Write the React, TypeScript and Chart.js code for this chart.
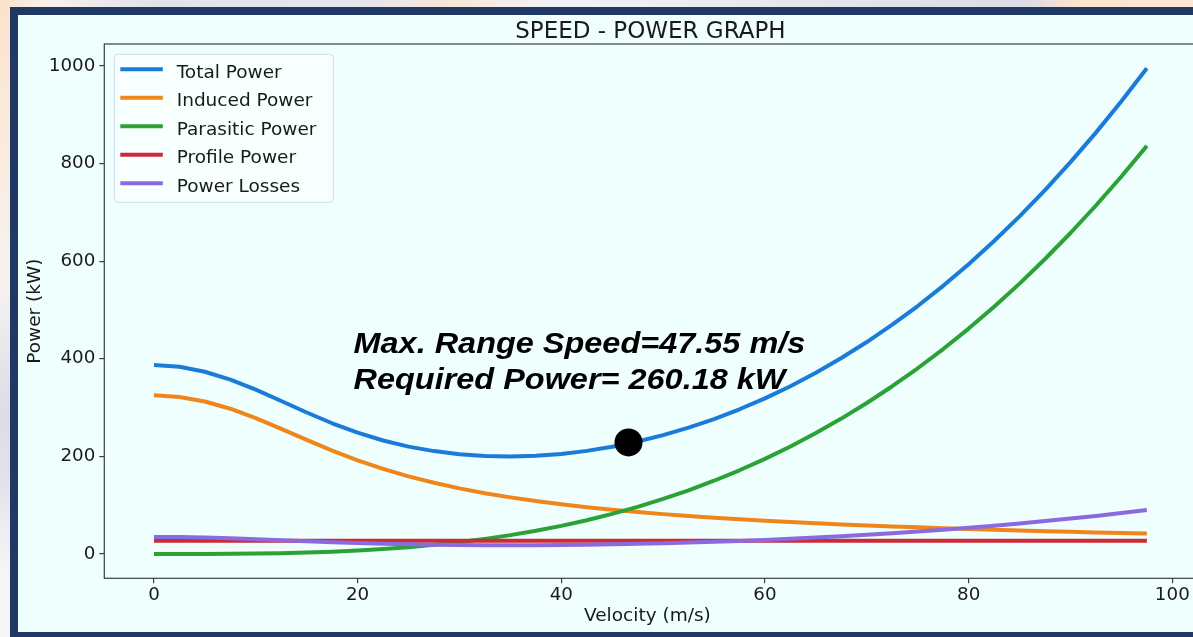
import React, { useEffect, useRef } from "react";
import { Chart, registerables } from "chart.js";

Chart.register(...registerables);

// ---------- data ----------
const velocity = [
  0, 2.5, 5, 7.5, 10, 12.5, 15, 17.5, 20, 22.5, 25, 27.5, 30, 32.5, 35, 37.5, 40, 42.5, 45, 47.5,
  50, 52.5, 55, 57.5, 60, 62.5, 65, 67.5, 70, 72.5, 75, 77.5, 80, 82.5, 85, 87.5, 90, 92.5, 95, 97.5,
];

const totalPower = [
  387.0, 383.5, 373.4, 357.3, 336.6, 313.5, 289.9, 267.8, 248.6, 232.6, 220.0, 210.8, 204.4, 200.7,
  199.8, 201.3, 205.1, 211.3, 219.8, 230.5, 243.5, 258.8, 276.5, 296.5, 318.8, 343.8, 371.3, 401.4,
  434.2, 469.7, 508.0, 549.4, 593.7, 641.1, 691.6, 745.5, 802.7, 863.2, 927.3, 995.0,
];

const inducedPower = [
  325.0, 321.8, 312.5, 297.6, 278.3, 256.4, 233.7, 211.8, 191.9, 174.3, 159.0, 145.9, 134.5, 124.6,
  116.0, 108.5, 101.9, 96.0, 90.7, 86.0, 81.7, 77.9, 74.4, 71.2, 68.2, 65.5, 63.0, 60.7, 58.5, 56.5,
  54.6, 52.8, 51.2, 49.6, 48.2, 46.8, 45.5, 44.3, 43.1, 42.0,
];

const parasiticPower = [
  0.0, 0.0, 0.1, 0.4, 0.9, 1.8, 3.0, 4.8, 7.2, 10.3, 14.1, 18.8, 24.4, 31.0, 38.7, 47.6, 57.7, 69.2,
  82.2, 96.7, 112.8, 130.5, 150.1, 171.5, 194.8, 220.2, 247.7, 277.4, 309.4, 343.7, 380.5, 419.9,
  461.8, 506.5, 553.9, 604.3, 657.6, 713.9, 773.4, 836.0,
];

const profilePower = [
  27, 27, 27, 27, 27, 27, 27, 27, 27, 27, 27, 27, 27, 27, 27, 27, 27, 27, 27, 27,
  27, 27, 27, 27, 27, 27, 27, 27, 27, 27, 27, 27, 27, 27, 27, 27, 27, 27, 27, 27,
];

const powerLosses = [
  35.0, 34.7, 33.8, 32.3, 30.4, 28.3, 26.2, 24.2, 22.5, 21.0, 19.9, 19.1, 18.5, 18.1, 18.1, 18.2,
  18.5, 19.1, 19.9, 20.8, 22.0, 23.4, 25.0, 26.8, 28.8, 31.1, 33.6, 36.3, 39.3, 42.5, 45.9, 49.7,
  53.7, 58.0, 62.5, 67.4, 72.6, 78.0, 83.8, 90.0,
];

const seriesLabels = ["Total Power", "Induced Power", "Parasitic Power", "Profile Power", "Power Losses"];
const seriesColors = ["#1b7bd8", "#f0861a", "#2aa236", "#cc2a36", "#8a6ae0"];

const maxRangeX = [46.6];
const maxRangeY = [228.5];

const xTicks = [0, 20, 40, 60, 80, 100];
const yTicks = [0, 200, 400, 600, 800, 1000];
const xLimits = [-4.875, 102.375];
const yLimits = [-49.75, 1044.75];

const chartTitle = "SPEED - POWER GRAPH";
const xAxisTitle = "Velocity (m/s)";
const yAxisTitle = "Power (kW)";
const annotationLines = ["Max. Range Speed=47.55 m/s", "Required Power= 260.18 kW"];

// ---------- component ----------
const FONT = '"DejaVu Sans", sans-serif';
const TEXT = "#1a1a1a";

const decorPlugin = {
  id: "decor",
  afterDraw(chart: any) {
    const { ctx, chartArea: a } = chart;
    const xs = chart.scales.x;
    const ys = chart.scales.y;
    ctx.save();

    // spines
    ctx.strokeStyle = "#3c3c3c";
    ctx.lineWidth = 1.2;
    ctx.strokeRect(a.left, a.top, a.right - a.left, a.bottom - a.top);

    // title
    ctx.fillStyle = TEXT;
    ctx.font = `23px ${FONT}`;
    ctx.textAlign = "center";
    ctx.textBaseline = "alphabetic";
    ctx.fillText(chartTitle, (a.left + a.right) / 2, a.top - 5.7);

    // x axis title
    ctx.font = `18.5px ${FONT}`;
    ctx.textBaseline = "middle";
    ctx.fillText(xAxisTitle, (a.left + a.right) / 2 - 3, a.bottom + 37.5);

    // y axis title
    ctx.save();
    ctx.translate(a.left - 69, (a.top + a.bottom) / 2);
    ctx.rotate(-Math.PI / 2);
    ctx.fillText(yAxisTitle, 0, 0);
    ctx.restore();

    // legend
    const lx = a.left + 10;
    const ly = a.top + 10.3;
    const lw = 219;
    const lh = 148;
    ctx.beginPath();
    (ctx as any).roundRect(lx, ly, lw, lh, 4);
    ctx.fillStyle = "rgba(248,255,255,0.85)";
    ctx.fill();
    ctx.strokeStyle = "#cfdcec";
    ctx.lineWidth = 1;
    ctx.stroke();
    ctx.font = `18.5px ${FONT}`;
    ctx.textAlign = "left";
    ctx.textBaseline = "alphabetic";
    seriesLabels.forEach((label, i) => {
      const ry = ly + 15 + i * 28.5;
      ctx.strokeStyle = seriesColors[i];
      ctx.lineWidth = 4;
      ctx.lineCap = "butt";
      ctx.beginPath();
      ctx.moveTo(lx + 6, ry);
      ctx.lineTo(lx + 48.5, ry);
      ctx.stroke();
      ctx.fillStyle = TEXT;
      ctx.fillText(label, lx + 62.4, ry + 8.6);
    });

    // annotation
    ctx.fillStyle = "#000";
    ctx.font = 'italic bold 30px "Liberation Sans", Arial, sans-serif';
    const m = ctx.measureText(annotationLines[0]);
    const ink = m.actualBoundingBoxLeft + m.actualBoundingBoxRight;
    const sx = 451 / ink;
    const ax = xs.getPixelForValue(19.6);
    const ay = ys.getPixelForValue(338);
    annotationLines.forEach((line, i) => {
      const mm = ctx.measureText(line);
      ctx.save();
      ctx.translate(ax, ay - (annotationLines.length - 1 - i) * 36.3);
      ctx.scale(sx, 1);
      ctx.fillText(line, mm.actualBoundingBoxLeft, 0);
      ctx.restore();
    });

    ctx.restore();
  },
};

export default function App() {
  const ref = useRef<HTMLCanvasElement | null>(null);

  useEffect(() => {
    if (!ref.current) return;
    const series = [totalPower, inducedPower, parasiticPower, profilePower, powerLosses];
    const datasets: any[] = series.map((vals, i) => ({
      label: seriesLabels[i],
      data: velocity.map((v, k) => ({ x: v, y: vals[k] })),
      borderColor: seriesColors[i],
      backgroundColor: seriesColors[i],
      borderWidth: 4,
      borderJoinStyle: "round",
      borderCapStyle: "butt",
      pointRadius: 0,
      tension: 0,
      fill: false,
      order: 5 - i,
    }));
    datasets.push({
      label: "Max Range",
      data: maxRangeX.map((v, k) => ({ x: v, y: maxRangeY[k] })),
      showLine: false,
      pointRadius: 14,
      pointBackgroundColor: "#000",
      pointBorderWidth: 0,
      backgroundColor: "#000",
      borderColor: "#000",
      order: 0,
    });

    const tickCfg = (size: number) => ({
      font: { family: FONT, size, lineHeight: 1 },
      color: TEXT,
      callback: (v: any) => String(v),
    });

    const chart = new Chart(ref.current, {
      type: "line",
      data: { datasets },
      plugins: [decorPlugin],
      options: {
        animation: false,
        responsive: false,
        devicePixelRatio: 1,
        layout: { padding: { top: 29, right: 21.5, left: 0, bottom: 0 } },
        plugins: { legend: { display: false }, tooltip: { enabled: false }, title: { display: false } },
        scales: {
          x: {
            type: "linear",
            min: xLimits[0],
            max: xLimits[1],
            afterBuildTicks: (s: any) => {
              s.ticks = xTicks.map((v) => ({ value: v }));
            },
            afterFit: (s: any) => {
              s.height = 53.7;
            },
            grid: { drawOnChartArea: false, drawTicks: true, tickLength: 5, color: "#3c3c3c", lineWidth: 1.2 },
            border: { display: false },
            ticks: { ...tickCfg(18.3), padding: 3, maxRotation: 0, autoSkip: false },
          },
          y: {
            type: "linear",
            min: yLimits[0],
            max: yLimits[1],
            afterBuildTicks: (s: any) => {
              s.ticks = yTicks.map((v) => ({ value: v }));
            },
            afterFit: (s: any) => {
              s.width = 86.3;
            },
            grid: { drawOnChartArea: false, drawTicks: true, tickLength: 5, color: "#3c3c3c", lineWidth: 1.2 },
            border: { display: false },
            ticks: { ...tickCfg(18.3), padding: 4, autoSkip: false },
          },
        },
      } as any,
    });
    return () => chart.destroy();
  }, []);

  return (
    <div
      style={{
        position: "fixed",
        left: 0,
        top: 0,
        width: 1193,
        height: 637,
        overflow: "hidden",
        background:
          "linear-gradient(90deg, #fbe3cc 0%, #f7f1ee 4%, #e2e2ea 13%, #e6e6ee 30%, #f8e7d8 38%, #f2f2f6 46%, #e4e4ec 70%, #dcdce6 86%, #fbe4cf 90%, #fde8d6 100%)",
      }}
    >
      <div
        style={{
          position: "absolute",
          left: 0,
          top: 0,
          width: 10,
          height: 637,
          background: "linear-gradient(180deg, #fbe3cc 0%, #fbeadb 20%, #f6f2f0 45%, #dcdce6 65%, #e2e2ea 75%, #f6f6f8 90%)",
        }}
      />
      <div
        style={{
          position: "absolute",
          left: 10,
          top: 7,
          width: 1300,
          height: 617,
          border: "8px solid #1f3864",
          background: "#eefffe",
        }}
      >
        <canvas ref={ref} width={1200} height={617} style={{ display: "block", width: 1200, height: 617 }} />
      </div>
    </div>
  );
}
